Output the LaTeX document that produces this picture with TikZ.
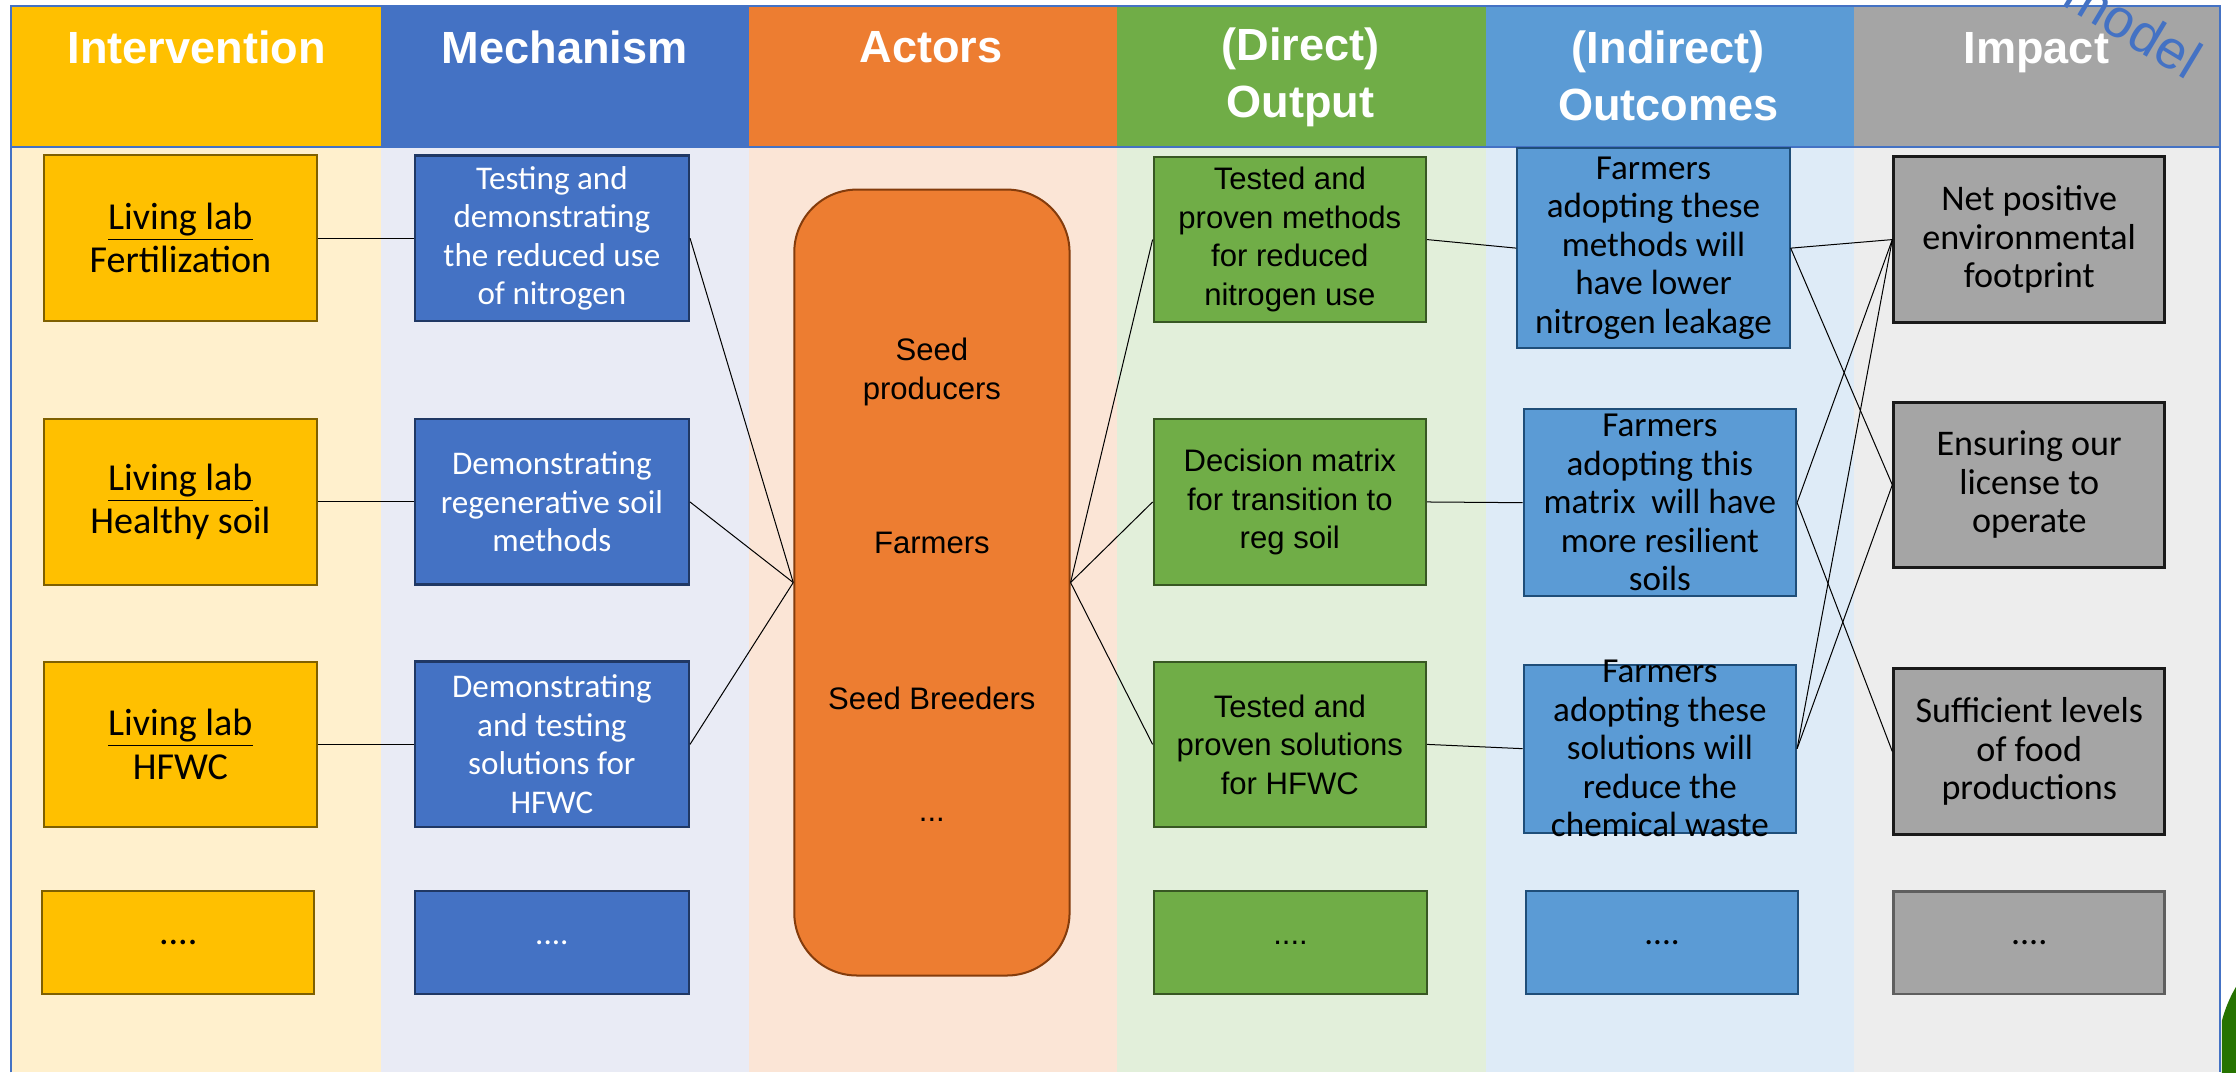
\documentclass[tikz,border=0pt]{standalone}
\usepackage{fontspec}
\setmainfont{Carlito}
\newfontfamily\arialfont{Liberation Sans}
\usetikzlibrary{positioning}

\definecolor{labfill}{HTML}{FFC000}
\definecolor{labline}{HTML}{7F6000}
\definecolor{labbg}{HTML}{FFF0CD}
\definecolor{mechfill}{HTML}{4472C4}
\definecolor{mechline}{HTML}{203864}
\definecolor{mechbg}{HTML}{E9EBF5}
\definecolor{actfill}{HTML}{ED7D31}
\definecolor{actline}{HTML}{843C0C}
\definecolor{actbg}{HTML}{FBE5D6}
\definecolor{outpfill}{HTML}{70AD47}
\definecolor{outpline}{HTML}{385723}
\definecolor{outpbg}{HTML}{E2EFDA}
\definecolor{outcfill}{HTML}{5B9BD5}
\definecolor{outcline}{HTML}{1F4E79}
\definecolor{outcbg}{HTML}{DEEBF7}
\definecolor{impfill}{HTML}{A5A5A5}
\definecolor{impline}{HTML}{1A1A1A}
\definecolor{impbg}{HTML}{EDEDED}
\definecolor{logogreen}{HTML}{267300}

\begin{document}
\begin{tikzpicture}[x=0.025cm,y=-0.025cm,
  headtext/.style={text=white,align=center,font=\arialfont\bfseries\fontsize{22.5}{28.5}\selectfont},
  labbox/.style={draw=labline,fill=labfill,line width=1pt,inner sep=1pt,minimum width=4.775cm,minimum height=2.9cm,align=center,font=\fontsize{19}{21.5}\selectfont},
  mechbox/.style={draw=mechline,fill=mechfill,line width=1.2pt,inner sep=1pt,text=white,minimum width=4.8cm,minimum height=2.9cm,align=center,font=\fontsize{16.5}{19.2}\selectfont},
  actortext/.style={align=center,font=\arialfont\fontsize{15.5}{19.2}\selectfont},
  outpbox/.style={draw=outpline,fill=outpfill,line width=1pt,inner sep=1pt,minimum width=4.775cm,minimum height=2.9cm,align=center,font=\arialfont\fontsize{15.5}{19.2}\selectfont},
  outctext/.style={align=center,font=\fontsize{17.5}{19.2}\selectfont},
  outcbox/.style={outctext,draw=outcline,fill=outcfill,line width=1pt,inner sep=0pt,minimum width=4.775cm},
  impbox/.style={draw=impline,fill=impfill,line width=1.4pt,inner sep=1pt,minimum width=4.75cm,minimum height=2.9cm,align=center,font=\fontsize{18}{19.2}\selectfont},
  frameline/.style={mechfill,line width=1pt},
  linkline/.style={black,line width=0.5pt}]
\useasboundingbox (0,0) rectangle (1568,752);
\fill[white] (0,0) rectangle (1568,752);

\fill[labbg] (8,103) rectangle (267,752);
\fill[mechbg] (267,103) rectangle (525,752);
\fill[actbg] (525,103) rectangle (783,752);
\fill[outpbg] (783,103) rectangle (1042,752);
\fill[outcbg] (1042,103) rectangle (1300,752);
\fill[impbg] (1300,103) rectangle (1557,752);

\fill[labfill] (8,4) rectangle (267,103);
\fill[mechfill] (267,4) rectangle (525,103);
\fill[actfill] (525,4) rectangle (783,103);
\fill[outpfill] (783,4) rectangle (1042,103);
\fill[outcfill] (1042,4) rectangle (1300,103);
\fill[impfill] (1300,4) rectangle (1557,103);
\draw[frameline] (8,752) -- (8,4) -- (1557,4) -- (1557,752);
\draw[frameline] (8,103) -- (1557,103);

\node[headtext] (hInt) at (138,33) {Intervention};
\node[headtext] (hMech) at (396,33) {Mechanism};
\node[headtext] (hAct) at (653,33) {Actors};
\node[headtext] (hOutp) at (912,54) {(Direct)\\Output};
\node[headtext] (hOutc) at (1170,53) {(Indirect)\\Outcomes};
\node[headtext] (hImp) at (1428,37) {Impact};

\node[labbox] (L1) at (126.5,167) {\underline{Living lab}\\Fertilization};
\node[labbox] (L2) at (126.5,352) {\underline{Living lab}\\Healthy soil};
\node[labbox] (L3) at (126.5,522) {\underline{Living lab}\\HFWC};
\node[labbox,minimum height=1.8cm] (L4) at (125,661) {....};

\node[mechbox] (M1) at (387,167) {Testing and\\demonstrating\\the reduced use\\of nitrogen};
\node[mechbox] (M2) at (387,352) {Demonstrating\\regenerative soil\\methods};
\node[mechbox] (M3) at (387,522) {Demonstrating\\and testing\\solutions for\\HFWC};
\node[mechbox,minimum height=1.8cm] (M4) at (387,661) {....};

\node[draw=actline,fill=actfill,line width=1pt,rounded corners=1.1cm,minimum width=4.825cm,minimum height=13.775cm] (A) at (653.5,408.5) {};
\node[actortext] (a1) at (653.5,261) {Seed\\producers};
\node[actortext] (a2) at (653.5,381) {Farmers};
\node[actortext] (a3) at (653.5,490) {Seed Breeders};
\node[actortext] (a4) at (653.5,575) {...};

\node[outpbox] (O1) at (904.5,168) {Tested and\\proven methods\\for reduced\\nitrogen use};
\node[outpbox] (O2) at (904.5,352) {Decision matrix\\for transition to\\reg soil};
\node[outpbox] (O3) at (904.5,522) {Tested and\\proven solutions\\for HFWC};
\node[outpbox,minimum height=1.8cm] (O4) at (905,661) {....};

\node[outcbox,minimum height=3.5cm] (C1) at (1159.5,174) {Farmers\\adopting these\\methods will\\have lower\\nitrogen leakage};
\node[outcbox,minimum height=3.275cm] (C2) at (1164,352.5) {Farmers\\adopting this\\matrix~ will have\\more resilient\\soils};
\node[outcbox,minimum height=2.95cm] (C3) at (1164,525) {};
\node[outctext] (C3t) at (C3) {Farmers\\adopting these\\solutions will\\reduce the\\chemical waste};
\node[outcbox,minimum height=1.8cm] (C4) at (1165.5,661) {....};

\node[impbox] (I1) at (1423,168) {Net positive\\environmental\\footprint};
\node[impbox] (I2) at (1423,340) {Ensuring our\\license to\\operate};
\node[impbox] (I3) at (1423,527) {Sufficient levels\\of food\\productions};
\node[impbox,draw=impline!70,minimum height=1.8cm] (I4) at (1423,661) {....};

\draw[linkline] (L1.east) -- (M1.west);
\draw[linkline] (L2.east) -- (M2.west);
\draw[linkline] (L3.east) -- (M3.west);
\draw[linkline] (M1.east) -- (A.west);
\draw[linkline] (M2.east) -- (A.west);
\draw[linkline] (M3.east) -- (A.west);
\draw[linkline] (A.east) -- (O1.west);
\draw[linkline] (A.east) -- (O2.west);
\draw[linkline] (A.east) -- (O3.west);
\draw[linkline] (O1.east) -- (C1.west);
\draw[linkline] (O2.east) -- (C2.west);
\draw[linkline] (O3.east) -- (C3.west);
\draw[linkline] (C1.east) -- (I1.west);
\draw[linkline] (C1.east) -- (I2.west);
\draw[linkline] (C2.east) -- (I1.west);
\draw[linkline] (C2.east) -- (I3.west);
\draw[linkline] (C3.east) -- (I1.west);
\draw[linkline] (C3.east) -- (I2.west);

\begin{scope}
\clip (0,0) rectangle (1568,752);
\node[rotate=-31,text=mechfill,font=\arialfont\fontsize{27}{27}\selectfont] (mdl) at (1496,18) {model};
\end{scope}
\begin{scope}
\clip (1558,0) rectangle (1568,752);
\fill[logogreen] (1650,740) circle (95);
\draw[white,line width=1.5pt] (1655,745) circle (84);
\draw[white,line width=1.5pt] (1665,750) circle (76);
\end{scope}
\end{tikzpicture}
\end{document}
